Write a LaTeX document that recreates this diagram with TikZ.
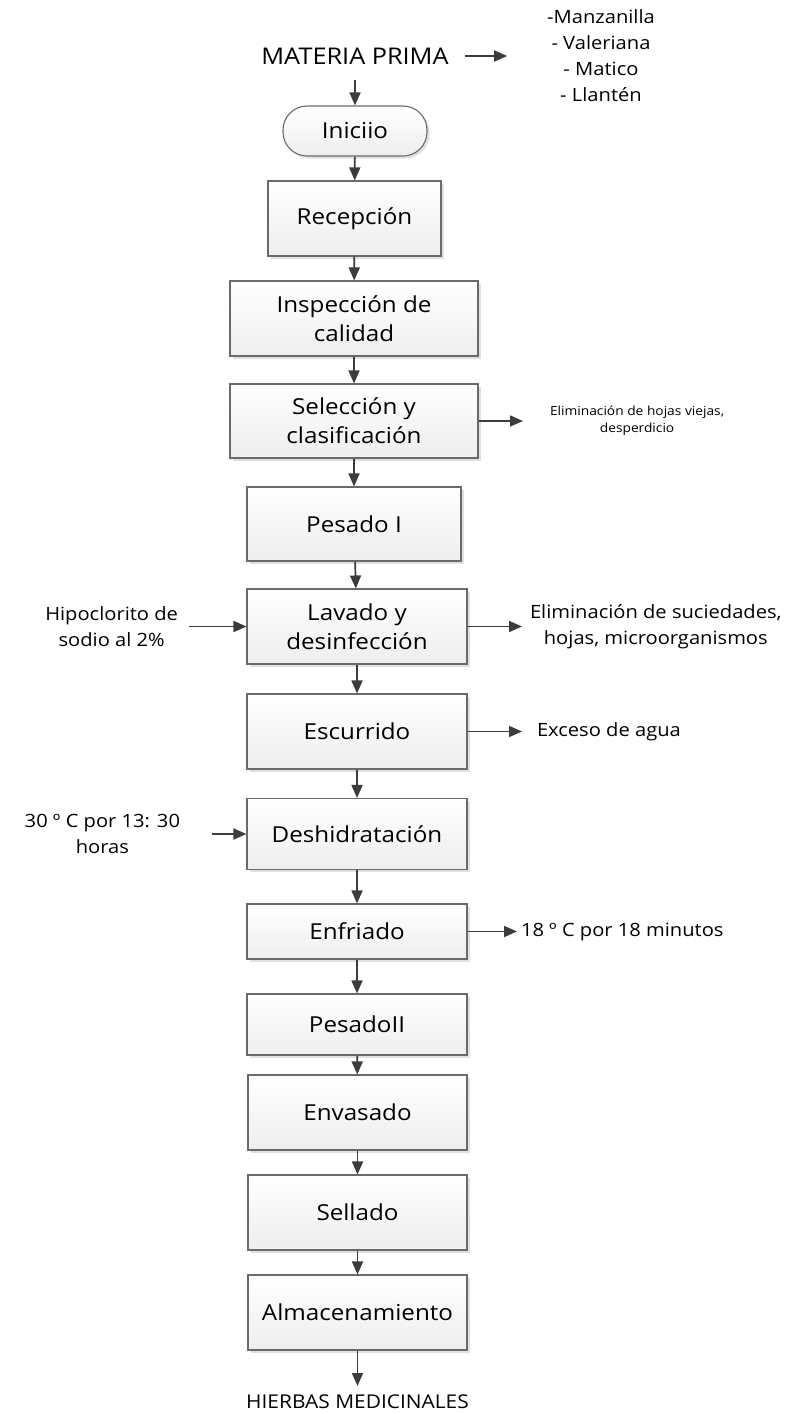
\documentclass[tikz,border=0pt]{standalone}
\usepackage{fontspec}
\newfontfamily\flowfont{Open Sans}[FakeStretch=1.1]
\usetikzlibrary{shapes, arrows.meta, positioning, shadows}

\definecolor{boxline}{HTML}{6A6A6A}
\definecolor{boxbottom}{HTML}{EEEEEE}
\definecolor{arrowgray}{HTML}{3C3C3C}

\newcommand{\boxfont}{\flowfont\fontsize{22}{29}\selectfont}
\newcommand{\sidefont}{\flowfont\fontsize{18.3}{26}\selectfont}
\newcommand{\smallnote}{\flowfont\fontsize{12.5}{17}\selectfont}

\tikzset{
  etapa/.style={rectangle, draw=boxline, line width=1.1pt, top color=white, bottom color=boxbottom,
    font=\boxfont, align=center, inner sep=0pt, minimum width=220pt, minimum height=75pt,
    general shadow={fill=black!12, shadow xshift=2.5pt, shadow yshift=-2.5pt}},
  nota/.style={font=\sidefont, align=center, inner sep=0pt},
  flecha/.style={->, draw=arrowgray, line width=1.7pt},
}

\begin{document}
\begin{tikzpicture}[x=1pt, y=-1pt, >={Triangle[length=13pt, width=11pt]}]
		\fill[white] (0,0) rectangle (801,1414);
		\useasboundingbox (0,0) rectangle (801,1414);
		
		% Entrada
		\node[nota, font=\flowfont\fontsize{23}{28}\selectfont, outer sep=16pt] (mp) at (355,56) {MATERIA PRIMA};
		\node[nota, outer sep=40pt] (plantas) at (601,56) {-Manzanilla\\- Valeriana\\- Matico\\- Llantén};
		
		% Etapas del proceso
		\node[etapa, rounded corners=24pt, minimum width=144pt, minimum height=50pt] (inicio) at (355,131) {Iniciio};
		\node[etapa, minimum width=173pt] (recep) at (354.5,218.5) {Recepción};
		\node[etapa, minimum width=248pt] (insp) at (354,318.5) {Inspección de\\calidad};
		\node[etapa, minimum width=248pt, minimum height=74pt] (selec) at (354,421) {Selección y\\clasificación};
		\node[etapa, minimum width=214pt, minimum height=74pt] (pesado1) at (354,524) {Pesado I};
		\node[etapa] (lavado) at (357,626.5) {Lavado y\\desinfección};
		\node[etapa] (escurrido) at (357,731.5) {Escurrido};
		\node[etapa, minimum height=71pt] (deshid) at (357,834) {Deshidratación};
		\node[etapa, minimum height=55pt] (enfriado) at (357,931.5) {Enfriado};
		\node[etapa, minimum height=61pt] (pesado2) at (357,1024.5) {PesadoII};
		\node[etapa, minimum width=219pt] (envasado) at (357.5,1112.5) {Envasado};
		\node[etapa, minimum width=219pt] (sellado) at (357.5,1212.5) {Sellado};
		\node[etapa, minimum width=219pt] (almac) at (357.5,1312.5) {Almacenamiento};
		
		% Salida
		\node[nota, font=\flowfont\fontsize{19}{24}\selectfont, anchor=north, outer sep=9pt] (hierbas) at (357.5,1386) {HIERBAS MEDICINALES};
		
		% Entradas y salidas laterales
		\node[nota, font=\smallnote, anchor=west, outer sep=27pt] (hojas) at (523,421) {Eliminación de hojas viejas,\\desperdicio};
		\node[nota, anchor=east, outer sep=11pt] (hipo) at (189,626.5) {Hipoclorito de\\sodio al 2\%};
		\node[nota, anchor=west, outer sep=8pt] (suciedad) at (522,626.5) {Eliminación de suciedades,\\hojas, microorganismos};
		\node[nota, anchor=west, outer sep=15pt] (agua) at (522,731.5) {Exceso de agua};
		\node[nota, anchor=east, outer sep=32pt] (temp) at (212,834) {30 º C por 13: 30\\horas};
		\node[nota, anchor=west, outer sep=4pt] (frio) at (517,931.5) {18 º C por 18 minutos};
		
		% Flechas
		\draw[flecha] (mp) -- (plantas);
		\draw[flecha] (mp) -- (inicio);
		\draw[flecha] (inicio) -- (recep);
		\draw[flecha] (recep) -- (insp);
		\draw[flecha] (insp) -- (selec);
		\draw[flecha] (selec) -- (pesado1);
		\draw[flecha] (pesado1) -- (lavado);
		\draw[flecha] (lavado) -- (escurrido);
		\draw[flecha] (escurrido) -- (deshid);
		\draw[flecha] (deshid) -- (enfriado);
		\draw[flecha] (enfriado) -- (pesado2);
		\draw[flecha] (pesado2) -- (envasado);
		\draw[flecha] (envasado) -- (sellado);
		\draw[flecha] (sellado) -- (almac);
		\draw[flecha] (almac) -- (hierbas);
		\draw[flecha] (selec) -- (hojas);
		\draw[flecha] (hipo) -- (lavado);
		\draw[flecha] (lavado) -- (suciedad);
		\draw[flecha] (escurrido) -- (agua);
		\draw[flecha] (temp) -- (deshid);
		\draw[flecha] (enfriado) -- (frio);
		
	\end{tikzpicture}
\end{document}
